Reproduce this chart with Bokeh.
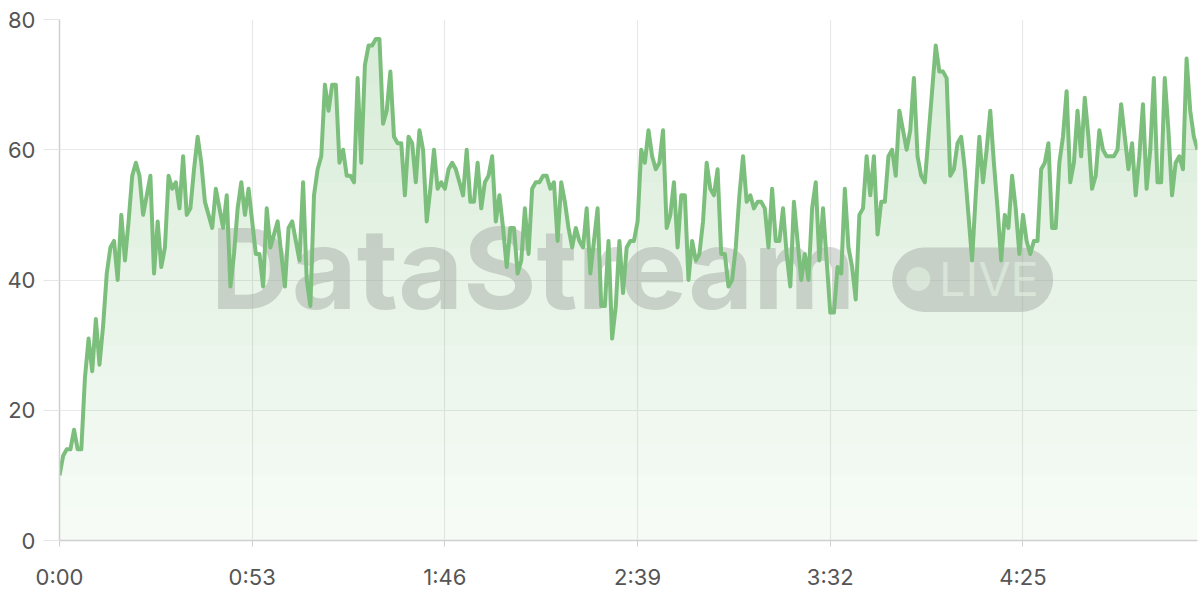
import numpy as np
from bokeh.plotting import figure
from bokeh.models import FixedTicker, Range1d, Label, BoxAnnotation
from bokeh.embed import file_html
from bokeh.resources import INLINE

# ---- data (one sample per second) ----
values = [
    10, 13, 14, 14, 17, 14, 14, 25, 31, 26, 34, 27, 33, 41, 45, 46, 40, 50, 43, 49,
    56, 58, 56, 50, 53, 56, 41, 49, 42, 45, 56, 54, 55, 51, 59, 50, 51, 57, 62, 58,
    52, 50, 48, 54, 51, 48, 53, 39, 44, 51, 55, 50, 54, 49, 44, 44, 39, 51, 45, 47,
    49, 44, 39, 48, 49, 46, 43, 55, 40, 36, 53, 57, 59, 70, 66, 70, 70, 58, 60, 56,
    56, 55, 71, 58, 73, 76, 76, 77, 77, 64, 66, 72, 62, 61, 61, 53, 62, 61, 55, 63,
    60, 49, 54, 60, 54, 55, 54, 57, 58, 57, 55, 53, 60, 52, 52, 58, 51, 55, 56, 59,
    49, 53, 48, 42, 48, 48, 41, 43, 51, 44, 54, 55, 55, 56, 56, 54, 55, 46, 55, 52,
    48, 45, 48, 46, 45, 51, 41, 46, 51, 36, 36, 46, 31, 36, 46, 38, 45, 46, 46, 49,
    60, 58, 63, 59, 57, 58, 63, 48, 50, 55, 45, 53, 53, 40, 46, 43, 44, 49, 58, 54,
    53, 57, 44, 44, 39, 40, 45, 53, 59, 52, 53, 51, 52, 52, 51, 45, 54, 46, 46, 51,
    44, 39, 52, 46, 40, 44, 40, 51, 55, 43, 51, 43, 35, 35, 42, 41, 54, 45, 42, 37,
    50, 51, 59, 53, 59, 47, 52, 52, 59, 60, 56, 66, 63, 60, 63, 71, 59, 56, 55, 62,
    69, 76, 72, 72, 71, 56, 57, 61, 62, 57, 50, 43, 53, 62, 55, 60, 66, 58, 51, 43,
    50, 48, 56, 51, 44, 50, 46, 44, 46, 46, 57, 58, 61, 48, 48, 58, 62, 69, 55, 58,
    66, 59, 68, 62, 54, 56, 63, 60, 59, 59, 59, 60, 67, 62, 57, 61, 53, 59, 67, 54,
    60, 71, 55, 55, 71, 63, 53, 58, 59, 57, 74, 66, 62, 60,
]
seconds = list(range(len(values)))

x_ticks = [0, 53, 106, 159, 212, 265]
x_tick_labels = ["0:00", "0:53", "1:46", "2:39", "3:32", "4:25"]
y_ticks = [0, 20, 40, 60, 80]

GREEN = "#7cbf7c"
FILL = "#81c784"
FONT = "Inter"

p = figure(width=1200, height=592, output_backend="svg", toolbar_location=None,
           x_range=Range1d(0, seconds[-1]), y_range=Range1d(0, 80))
p.min_border_left = 59
p.min_border_top = 19
p.min_border_right = 3
p.min_border_bottom = 49
p.outline_line_color = None
p.background_fill_color = "white"
p.border_fill_color = "white"

# grids
p.xgrid.ticker = FixedTicker(ticks=x_ticks)
p.ygrid.ticker = FixedTicker(ticks=y_ticks)
p.xgrid.grid_line_color = "#e9e9e9"
p.ygrid.grid_line_color = "#e9e9e9"
p.xgrid.grid_line_width = 1.2
p.ygrid.grid_line_width = 1.2

# axes
p.xaxis.ticker = FixedTicker(ticks=x_ticks)
p.xaxis.major_label_overrides = {t: l for t, l in zip(x_ticks, x_tick_labels)}
p.yaxis.ticker = FixedTicker(ticks=y_ticks)
for ax in (p.xaxis[0], p.yaxis[0]):
    ax.axis_line_color = "#cfcfcf"
    ax.axis_line_width = 1.5
    ax.minor_tick_line_color = None
    ax.major_tick_in = 0
    ax.major_label_text_font = FONT
    ax.major_label_text_font_size = "22px"
    ax.major_label_text_color = "#555555"
p.xaxis.major_tick_out = 6
p.xaxis.major_tick_line_color = "#cfcfcf"
p.xaxis.major_label_standoff = 17
p.yaxis.major_tick_out = 16
p.yaxis.major_tick_line_color = "#e6e6e6"
p.yaxis.major_label_standoff = 8

# watermark (underneath the series)
wm = Label(x=41.6, y=41.8, text="DataStream", text_font=FONT, text_font_style="bold",
           text_font_size="112px", text_color="#2e3b2e", text_alpha=0.19,
           text_baseline="alphabetic", text_align="left", level="underlay")
p.add_layout(wm)
pill = BoxAnnotation(left=229.0, right=273.3, bottom=35.1, top=45.0, border_radius=33,
                     fill_color="#2e3b2e", fill_alpha=0.19, line_color=None, level="underlay")
p.add_layout(pill)
dot = BoxAnnotation(left=232.9, right=239.5, bottom=38.3, top=42.0, border_radius=12,
                    fill_color="white", fill_alpha=0.6, line_color=None, level="underlay")
p.add_layout(dot)
live = Label(x=241.9, y=40.2, text="LIVE", text_font=FONT, text_font_size="47px",
             text_color="white", text_alpha=0.6, text_baseline="alphabetic",
             text_align="left", level="underlay")
p.add_layout(live)

# gradient-like area fill: stacked translucent bands
vals = np.array(values, dtype=float)
xs = np.array(seconds, dtype=float)
levels = list(range(0, 80, 5))
for i, lv in enumerate(levels):
    p.varea(x=xs, y1=np.full_like(vals, lv), y2=np.maximum(vals, lv),
            fill_color=FILL, fill_alpha=0.07 if i == 0 else 0.021)

p.line(xs, vals, line_color=GREEN, line_width=4, line_join="round")

open("out.html", "w").write(file_html(p, INLINE))
